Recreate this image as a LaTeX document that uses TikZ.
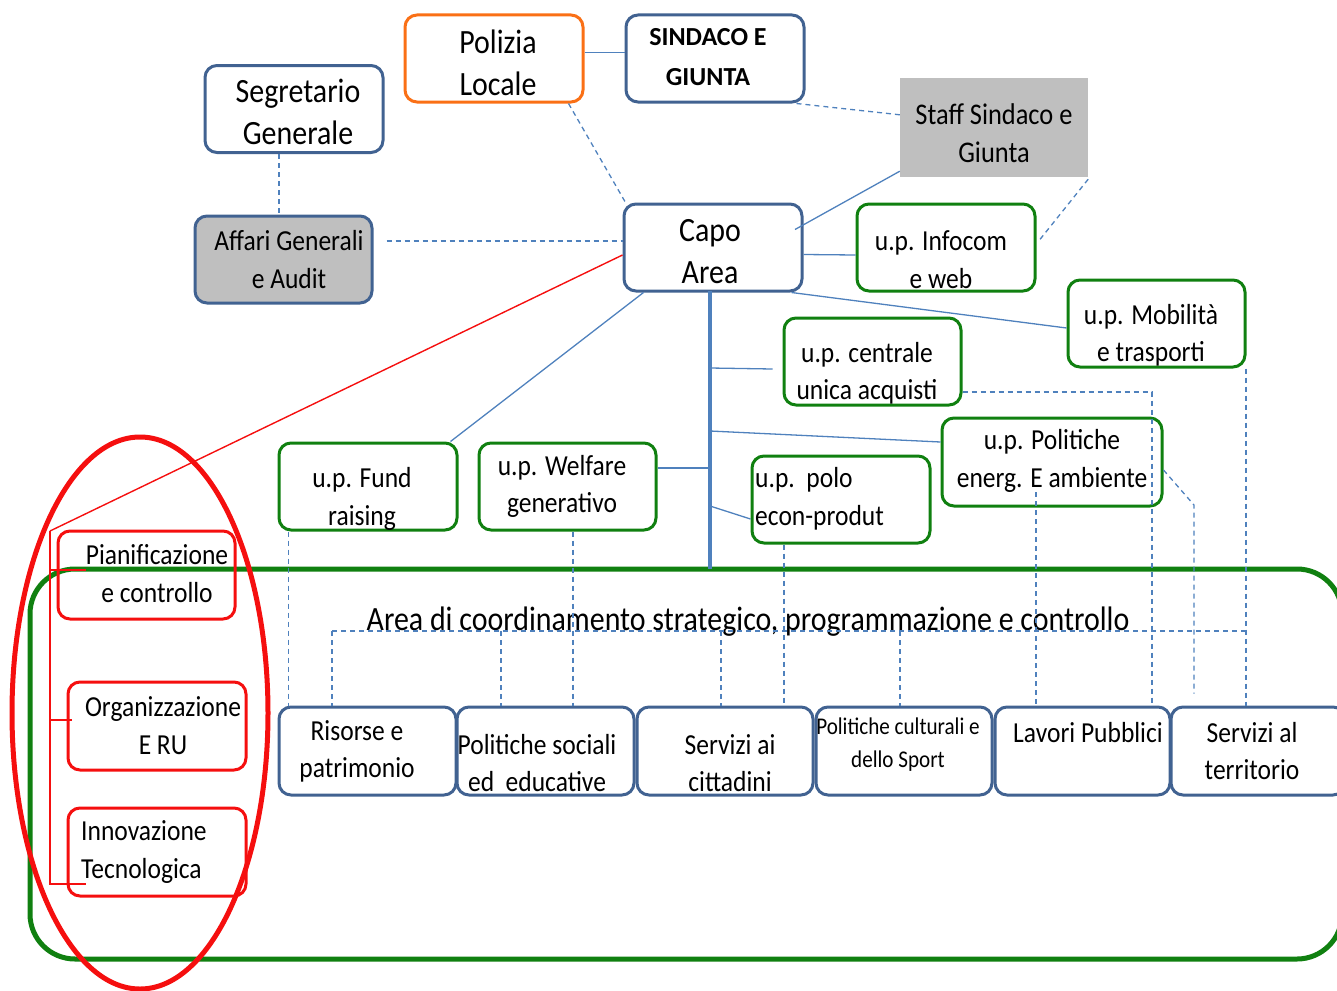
\documentclass[tikz,border=0pt]{standalone}
\usepackage{fontspec}
\setmainfont{Carlito}[FakeStretch=0.88]
\newfontfamily\widebold{Carlito}[FakeStretch=1.0]
\usetikzlibrary{calc}
\definecolor{bbord}{RGB}{65,98,145}
\definecolor{lblue}{RGB}{79,129,189}
\definecolor{grn}{RGB}{16,128,16}
\definecolor{orng}{RGB}{250,112,22}
\definecolor{rd}{RGB}{245,15,15}
\definecolor{gfill}{RGB}{191,191,191}
\begin{document}
\begin{tikzpicture}[x=1pt,y=-1pt,
  box/.style={draw, line width=3pt, rounded corners=12pt, minimum width=178pt, minimum height=87pt, inner sep=0pt},
  bbox/.style={box, draw=bbord},
  gbox/.style={box, draw=grn},
  rbox/.style={box, draw=rd},
  obox/.style={box, draw=orng},
  txt/.style={align=center, inner sep=0pt, font=\fontsize{29}{37.5}\selectfont},
  bigtxt/.style={align=center, inner sep=0pt, font=\fontsize{34}{42}\selectfont},
  conn/.style={draw=lblue, line width=1.3pt},
  dsh/.style={draw=lblue, line width=1.3pt, dash pattern=on 5pt off 4pt},
  trunk/.style={draw=lblue, line width=4pt},
  rline/.style={draw=rd, line width=1.4pt}
]
\useasboundingbox (0,0) rectangle (1337,990);
\clip (0,0) rectangle (1337,990);

% big green area and red ellipse
\draw[grn, line width=5pt, rounded corners=45pt] (30,569) rectangle (1342,959);
\node[txt, font=\fontsize{34}{40}\selectfont] (areatxt) at (748,622) {Area di coordinamento strategico, programmazione e controllo};

% top boxes
\node[bbox] (seg) at (294,109) {};
\node[bigtxt] at (298,112) {Segretario\\Generale};
\node[obox] (pol) at (494,58.5) {};
\node[bigtxt] at (498,63) {Polizia\\Locale};
\node[bbox] (sin) at (715,58.5) {};
\node[align=center, inner sep=0pt, font=\widebold\fontsize{26}{40}\bfseries] at (708,57) {SINDACO E\\GIUNTA};
\node[fill=gfill, minimum width=188pt, minimum height=99pt, inner sep=0pt] (staff) at (994,127.5) {};
\node[txt, font=\fontsize{30}{38}\selectfont] at (994,133) {Staff Sindaco e\\Giunta};
\node[bbox, fill=gfill, minimum width=177pt] (aff) at (283.5,259.5) {};
\node[txt] at (289,259.5) {Affari Generali\\e Audit};
\node[bbox] (capo) at (713,247.5) {};
\node[bigtxt] at (710,252) {Capo\\Area};

% green unit boxes
\node[gbox] (info) at (946,247.5) {};
\node[txt] at (941,259.5) {u.p. Infocom\\e web};
\node[gbox, minimum width=177pt] (mob) at (1156.5,323.5) {};
\node[txt] at (1151,335.5) {u.p. Mobilità\\e trasporti};
\node[gbox, minimum width=177pt] (cen) at (872.5,361.5) {};
\node[txt] at (867,373.5) {u.p. centrale\\unica acquisti};
\node[gbox, minimum width=220pt, minimum height=88pt] (ene) at (1052,462) {};
\node[txt] at (1052,461) {u.p. Politiche\\energ. E ambiente};
\node[gbox] (polo) at (841,499.5) {};
\node[txt, align=left, anchor=west] at (755,499) {u.p.\ \ polo\\econ-produt};
\node[gbox] (fund) at (368,486.5) {};
\node[txt] at (362,499) {u.p. Fund\\raising};
\node[gbox, minimum width=177pt] (wel) at (567.5,486.5) {};
\node[txt] at (562,486.5) {u.p. Welfare\\generativo};

% red boxes
\node[rbox, minimum width=177pt, minimum height=88pt] (pian) at (146.5,575) {};
\node[txt] at (157,573.5) {Pianificazione\\e controllo};
\node[rbox, minimum height=88pt] (org) at (157,726) {};
\node[txt] at (163,725.5) {Organizzazione\\E RU};
\node[rbox, minimum height=88pt] (inn) at (157,852) {};
\node[txt, align=left, anchor=west] at (81,852) {Innovazione\\Tecnologica};

% bottom blue boxes
\node[bbox, minimum width=177pt, minimum height=88pt] (ris) at (367.5,751) {};
\node[txt] at (357,751.5) {Risorse e\\patrimonio};
\node[bbox, minimum width=177pt, minimum height=88pt] (soc) at (545.5,751) {};
\node[txt] at (537,763) {Politiche sociali\\ed\ \ educative};
\node[bbox, minimum width=176pt, minimum height=88pt] (cit) at (725,751) {};
\node[txt] at (730,763) {Servizi ai\\cittadini};
\node[bbox, minimum width=176pt, minimum height=88pt] (cul) at (904,751) {};
\node[txt, font=\fontsize{24}{33}\selectfont] at (898,745) {Politiche culturali e\\dello Sport};
\node[bbox, minimum width=175pt, minimum height=88pt] (lav) at (1082.5,751) {};
\node[txt] at (1088,733) {Lavori Pubblici};
\node[bbox, minimum width=174pt, minimum height=88pt] (ter) at (1258,751) {};
\node[txt] at (1252,751) {Servizi al\\territorio};

% solid connectors
\draw[conn] ([yshift=6pt]pol.east) -- ([yshift=6pt]sin.west);
\draw[conn] ([yshift=6pt]staff.south west) -- ([xshift=82pt,yshift=18pt]capo.center);
\draw[conn] ([yshift=-7pt]capo.east) -- ([yshift=-7.5pt]info.west);
\draw[conn] ([xshift=-12pt]capo.south east) -- ([yshift=-4.5pt]mob.west);
\draw[conn] ([xshift=21pt]capo.south west) -- ([xshift=-8pt]fund.north east);
\coordinate (tt) at (710,291);
\coordinate (tb) at (710,569);
\draw[trunk] (tt) -- (tb);
\coordinate (jw) at (710,468);
\coordinate (jc) at (710,368);
\coordinate (je) at (710,431);
\coordinate (jp) at (710,506);
\draw[conn] ([yshift=18.5pt]wel.east) -- (jw);
\draw[conn] (jc) -- ([xshift=-10pt,yshift=-7.5pt]cen.west);
\draw[conn] (je) -- ([yshift=20pt]ene.west);
\draw[conn] (jp) -- ([yshift=-19.5pt]polo.west);

% dashed connectors (top)
\draw[dsh] ([xshift=-9pt]sin.south east) -- ([yshift=-37pt]staff.north west);
\draw[dsh] ([xshift=-16pt]pol.south east) -- ([xshift=3pt]capo.north west);
\draw[dsh] ([xshift=-15pt]seg.south) -- ([xshift=-4.5pt]aff.north);
\draw[dsh] ([xshift=13pt,yshift=18.5pt]aff.east) -- ([yshift=6.5pt]capo.west);
\draw[dsh] ([yshift=-2pt]staff.south east) -- ([xshift=3pt,yshift=7.5pt]info.east);

% dashed connectors (down to the areas)
\draw[dsh] ([xshift=11pt]fund.south west) -- ([xshift=11pt]ris.north west);
\draw[dsh] ([xshift=5.5pt]wel.south) -- ([xshift=5.5pt]wel.south |- soc.north);
\draw[dsh] ([xshift=-57pt]polo.south) -- ([xshift=-57pt]polo.south |- cit.north);
\draw[dsh] ([xshift=-16pt,yshift=-30pt]ene.center) -- ([xshift=-16pt]ene.center |- lav.north);
\draw[dsh] ([yshift=-30.5pt]cen.east) -| ([xshift=69.5pt]lav.north);
\coordinate (ek) at (1194,505);
\draw[dsh] ([yshift=-8pt]ene.east) -- (ek) -- ([yshift=12pt]ek |- ter.north);
\draw[dsh] ([xshift=89.5pt]mob.south) -- ([xshift=-12pt]ter.north);
\coordinate (hl) at (332,631);
\coordinate (hr) at (1246,631);
\coordinate (h2) at (501,631);
\coordinate (h3) at (721,631);
\coordinate (h4) at (900,631);
\draw[dsh] (hl) -- (hr);
\draw[dsh] (hl) -- (hl |- ris.north);
\draw[dsh] (h2) -- (h2 |- soc.north);
\draw[dsh] (h3) -- (h3 |- cit.north);
\draw[dsh] (h4) -- (h4 |- cul.north);

% red ellipse and bracket
\draw[rd, line width=5pt] (140,713) ellipse [x radius=128pt, y radius=276pt];
\coordinate (brtop) at (50,531);
\coordinate (brbot) at (50,884);
\draw[rline] ([yshift=-7.5pt]capo.west) -- (brtop);
\draw[rline] (brtop) -- (brbot) -- ([xshift=19pt]brbot -| inn.west);
\draw[rline] (50,570) -- ([xshift=29pt,yshift=5pt]pian.west);
\draw[rline] (50,720) -- ([xshift=5pt,yshift=6pt]org.west);
\end{tikzpicture}
\end{document}
